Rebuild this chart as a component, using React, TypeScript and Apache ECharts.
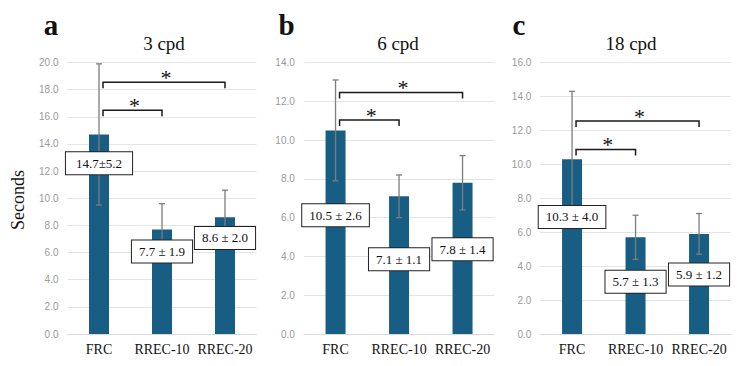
import React, { useEffect, useRef } from "react";
import * as echarts from "echarts";

// Groups shown on every panel
const categories = ["FRC", "RREC-10", "RREC-20"];

// Mean response time (seconds) and standard deviation per panel
const means3cpd = [14.7, 7.7, 8.6];
const sd3cpd = [5.2, 1.9, 2.0];
const means6cpd = [10.5, 7.1, 7.8];
const sd6cpd = [2.6, 1.1, 1.4];
const means18cpd = [10.3, 5.7, 5.9];
const sd18cpd = [4.0, 1.3, 1.2];

// Panel headings and letters
const panelTitles = ["3 cpd", "6 cpd", "18 cpd"];
const panelLetters = ["a", "b", "c"];

// Y axis ranges
const yMaxima = [20, 14, 16];
const yInterval = 2;

// Significant pairwise comparisons (category indices)
const comparisons = [
  [0, 1],
  [0, 2],
];

const panelData = [
  { means: means3cpd, sd: sd3cpd },
  { means: means6cpd, sd: sd6cpd },
  { means: means18cpd, sd: sd18cpd },
];

// Layout: grid rectangles, bracket heights and value-label anchors (axis units)
const layout = [
  { left: 67.5, width: 189, titleX: 164, letterX: 51, brackets: [16.48, 18.54], labelY: [12.57, 6.07, 7.08], compact: [true, false, false] },
  { left: 303.8, width: 190.5, titleX: 398, letterX: 286.5, brackets: [11.03, 12.45], labelY: [6.12, 3.85, 4.37], compact: [false, false, false] },
  { left: 540.3, width: 190.5, titleX: 631, letterX: 519, brackets: [10.88, 12.55], labelY: [6.9, 3.08, 3.5], compact: [false, false, false] },
];

const SERIF = '"Liberation Serif", "Times New Roman", serif';
const SANS = '"Liberation Sans", Arial, sans-serif';
const BAR_COLOR = "#185e84";

function fmtLabel(m: number, s: number, compact: boolean) {
  return compact ? `${m.toFixed(1)}±${s.toFixed(1)}` : `${m.toFixed(1)} ± ${s.toFixed(1)}`;
}

export default function App() {
  const ref = useRef<HTMLDivElement>(null);

  useEffect(() => {
    document.body.style.margin = "0";
    const chart = echarts.init(ref.current!, null, { renderer: "svg" });

    const grids: any[] = [];
    const xAxes: any[] = [];
    const yAxes: any[] = [];
    const series: any[] = [];
    const graphics: any[] = [];

    panelData.forEach((p, i) => {
      const L = layout[i];
      grids.push({ left: L.left, width: L.width, top: 62.5, height: 271.5 });
      xAxes.push({
        type: "category",
        gridIndex: i,
        data: categories,
        axisTick: { show: false },
        axisLine: { lineStyle: { color: "#d9d9d9" } },
        axisLabel: { interval: 0, fontFamily: SERIF, fontSize: 14, color: "#111", margin: 8 },
      });
      yAxes.push({
        type: "value",
        gridIndex: i,
        min: 0,
        max: yMaxima[i],
        interval: yInterval,
        axisLine: { show: false },
        axisTick: { show: false },
        splitLine: { lineStyle: { color: "#e4e4e4", width: 1 } },
        axisLabel: {
          fontFamily: SANS,
          fontSize: 10,
          color: "#9a9a9a",
          margin: 9,
          formatter: (v: number) => v.toFixed(1),
        },
      });

      // Bars
      series.push({
        type: "bar",
        xAxisIndex: i,
        yAxisIndex: i,
        data: p.means,
        barWidth: 20,
        itemStyle: { color: BAR_COLOR },
        z: 2,
      });

      // Error bars (mean ± SD)
      series.push({
        type: "custom",
        xAxisIndex: i,
        yAxisIndex: i,
        z: 3,
        encode: { x: 0, y: 1 },
        data: p.means.map((m, k) => [k, m, p.sd[k]]),
        renderItem: (_params: any, api: any) => {
          const k = api.value(0);
          const m = api.value(1);
          const s = api.value(2);
          const top = api.coord([k, m + s]);
          const bot = api.coord([k, m - s]);
          const x = top[0];
          const style = { stroke: "#7d7d7d", lineWidth: 1.3 };
          return {
            type: "group",
            children: [
              { type: "line", shape: { x1: x, y1: top[1], x2: x, y2: bot[1] }, style },
              { type: "line", shape: { x1: x - 3, y1: top[1], x2: x + 3, y2: top[1] }, style },
              { type: "line", shape: { x1: x - 3, y1: bot[1], x2: x + 3, y2: bot[1] }, style },
            ],
          };
        },
      });

      // Significance brackets with asterisks
      series.push({
        type: "custom",
        xAxisIndex: i,
        yAxisIndex: i,
        z: 4,
        encode: { x: 0, y: 2 },
        data: comparisons.map((c, k) => [c[0], c[1], L.brackets[k]]),
        renderItem: (_params: any, api: any) => {
          const a = api.coord([api.value(0), api.value(2)]);
          const b = api.coord([api.value(1), api.value(2)]);
          const lx = a[0] + 4;
          const rx = b[0];
          const y = a[1];
          return {
            type: "group",
            children: [
              {
                type: "polyline",
                shape: { points: [[lx, y + 6], [lx, y], [rx, y], [rx, y + 6]] },
                style: { stroke: "#1a1a1a", lineWidth: 1.5, fill: null },
              },
              {
                type: "text",
                style: {
                  text: "*",
                  x: (lx + rx) / 2 + 2,
                  y: y + 6,
                  align: "center",
                  verticalAlign: "bottom",
                  font: `22px ${SERIF}`,
                  fill: "#111",
                },
              },
            ],
          };
        },
      });

      // Mean ± SD value labels in boxes
      series.push({
        type: "scatter",
        xAxisIndex: i,
        yAxisIndex: i,
        z: 5,
        symbolSize: 0,
        itemStyle: { opacity: 1 },
        emphasis: { disabled: true },
        data: p.means.map((_m, k) => ({
          value: [k, L.labelY[k]],
          label: L.compact[k] ? { padding: [5, 10, 4, 10] } : undefined,
        })),
        label: {
          show: true,
          position: "inside",
          opacity: 1,
          formatter: (params: any) => {
            const k = params.dataIndex;
            return fmtLabel(p.means[k], p.sd[k], L.compact[k]);
          },
          fontFamily: SERIF,
          fontSize: 13,
          color: "#111",
          backgroundColor: "#fff",
          borderColor: "#222",
          borderWidth: 1,
          padding: [5, 7, 4, 7],
        },
      });

      graphics.push({
        type: "text",
        style: {
          text: panelTitles[i],
          x: L.titleX,
          y: 43,
          align: "center",
          verticalAlign: "middle",
          font: `19px ${SERIF}`,
          fill: "#111",
        },
      });
      graphics.push({
        type: "text",
        style: {
          text: panelLetters[i],
          x: L.letterX,
          y: 10,
          align: "center",
          verticalAlign: "top",
          font: `bold 29px ${SERIF}`,
          fill: "#111",
        },
      });
    });

    graphics.push({
      type: "text",
      rotation: Math.PI / 2,
      x: 18,
      y: 200,
      style: {
        text: "Seconds",
        x: 0,
        y: 0,
        align: "center",
        verticalAlign: "middle",
        font: `18px ${SERIF}`,
        fill: "#111",
      },
    });

    chart.setOption({
      animation: false,
      backgroundColor: "#fff",
      grid: grids,
      xAxis: xAxes,
      yAxis: yAxes,
      series,
      graphic: graphics,
    });

    return () => chart.dispose();
  }, []);

  return (
    <div
      ref={ref}
      style={{ position: "absolute", left: 0, top: 0, width: 750, height: 366 }}
    />
  );
}
